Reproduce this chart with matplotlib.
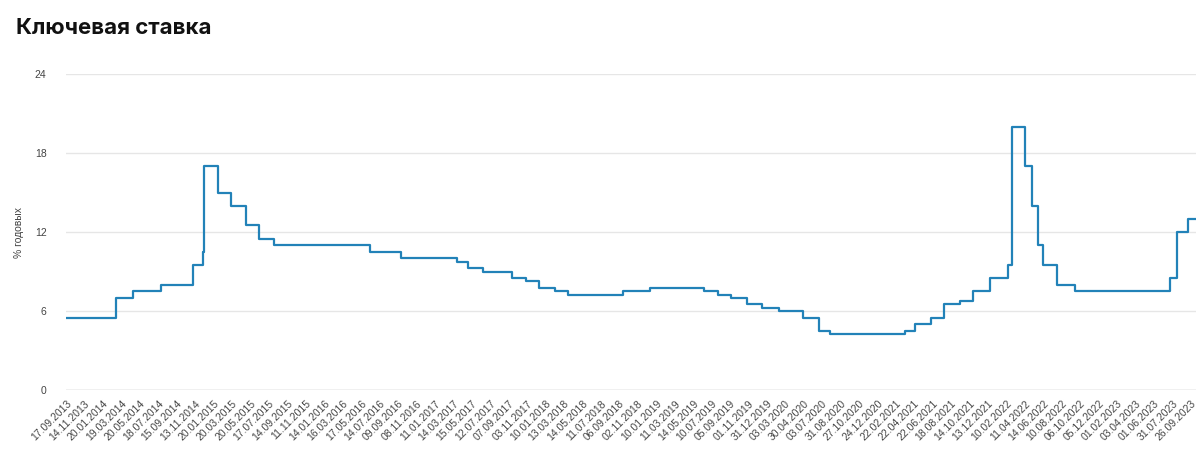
import numpy as np
import pandas as pd
import matplotlib
matplotlib.use("Agg")
import matplotlib.pyplot as plt

# Key rate decisions (date of change, % per year)
change_dates = [
    "17.09.2013", "03.03.2014", "28.04.2014", "28.07.2014", "05.11.2014",
    "12.12.2014", "16.12.2014", "02.02.2015", "16.03.2015", "05.05.2015",
    "16.06.2015", "03.08.2015", "14.06.2016", "19.09.2016", "27.03.2017",
    "02.05.2017", "19.06.2017", "18.09.2017", "30.10.2017", "18.12.2017",
    "12.02.2018", "26.03.2018", "17.09.2018", "17.12.2018", "17.06.2019",
    "29.07.2019", "09.09.2019", "28.10.2019", "16.12.2019", "10.02.2020",
    "27.04.2020", "22.06.2020", "27.07.2020", "22.03.2021", "26.04.2021",
    "15.06.2021", "26.07.2021", "13.09.2021", "25.10.2021", "20.12.2021",
    "14.02.2022", "28.02.2022", "11.04.2022", "04.05.2022", "27.05.2022",
    "14.06.2022", "25.07.2022", "19.09.2022", "24.07.2023", "15.08.2023",
    "18.09.2023",
]
rates = [
    5.5, 7.0, 7.5, 8.0, 9.5,
    10.5, 17.0, 15.0, 14.0, 12.5,
    11.5, 11.0, 10.5, 10.0, 9.75,
    9.25, 9.0, 8.5, 8.25, 7.75,
    7.5, 7.25, 7.5, 7.75, 7.5,
    7.25, 7.0, 6.5, 6.25, 6.0,
    5.5, 4.5, 4.25, 4.5, 5.0,
    5.5, 6.5, 6.75, 7.5, 8.5,
    9.5, 20.0, 17.0, 14.0, 11.0,
    9.5, 8.0, 7.5, 8.5, 12.0,
    13.0,
]
last_date = "13.10.2023"

tick_labels = [
    "17.09.2013", "14.11.2013", "20.01.2014", "19.03.2014", "20.05.2014",
    "18.07.2014", "15.09.2014", "13.11.2014", "20.01.2015", "20.03.2015",
    "20.05.2015", "17.07.2015", "14.09.2015", "11.11.2015", "14.01.2016",
    "16.03.2016", "17.05.2016", "14.07.2016", "09.09.2016", "08.11.2016",
    "11.01.2017", "14.03.2017", "15.05.2017", "12.07.2017", "07.09.2017",
    "03.11.2017", "10.01.2018", "13.03.2018", "14.05.2018", "11.07.2018",
    "06.09.2018", "02.11.2018", "10.01.2019", "11.03.2019", "14.05.2019",
    "10.07.2019", "05.09.2019", "01.11.2019", "31.12.2019", "03.03.2020",
    "30.04.2020", "03.07.2020", "31.08.2020", "27.10.2020", "24.12.2020",
    "22.02.2021", "22.04.2021", "22.06.2021", "18.08.2021", "14.10.2021",
    "13.12.2021", "10.02.2022", "11.04.2022", "14.06.2022", "10.08.2022",
    "06.10.2022", "05.12.2022", "01.02.2023", "03.04.2023", "01.06.2023",
    "31.07.2023", "26.09.2023",
]

plt.rcParams["font.family"] = ["Liberation Sans", "DejaVu Sans"]

# The axis is evenly spaced in ticks (trading days); map dates onto it
tick_days = pd.to_datetime(tick_labels, format="%d.%m.%Y").values.astype("datetime64[D]").astype(float)
tick_pos = np.arange(len(tick_labels), dtype=float)
step = tick_pos[-1] - tick_pos[-2]


def to_pos(dates):
    d = pd.to_datetime(dates, format="%d.%m.%Y").values.astype("datetime64[D]").astype(float)
    ext_days = np.append(tick_days, tick_days[-1] + (tick_days[-1] - tick_days[-2]))
    ext_pos = np.append(tick_pos, tick_pos[-1] + step)
    return np.interp(d, ext_days, ext_pos)


x = to_pos(change_dates + [last_date])
y = rates + [rates[-1]]

fig = plt.figure(figsize=(12, 4.65), dpi=100)
ax = fig.add_axes([0.055, 0.161, 0.942, 0.68])

ax.step(x, y, where="post", color="#2282b8", linewidth=1.6, zorder=3)

ax.set_ylim(0, 24)
ax.set_yticks([0, 6, 12, 18, 24])
ax.set_xlim(x[0], x[-1])
ax.set_xticks(tick_pos)
ax.set_xticklabels(tick_labels, rotation=45, ha="right", rotation_mode="anchor")

ax.grid(axis="y", color="#e6e6e6", linewidth=1)
ax.axhline(0, color="#cccccc", linewidth=1, zorder=2)
for s in ax.spines.values():
    s.set_visible(False)
ax.tick_params(axis="both", length=0, labelsize=7.5, colors="#444444")
ax.tick_params(axis="y", pad=14)
ax.tick_params(axis="x", pad=6)

ax.set_ylabel("% годовых", fontsize=7.5, color="#444444", labelpad=8)

fig.text(0.013, 0.94, "Ключевая ставка", fontsize=16, fontweight="bold",
         family=["Inter", "DejaVu Sans"], color="#111111", va="center", ha="left")

fig.savefig("out.png", dpi=100)
